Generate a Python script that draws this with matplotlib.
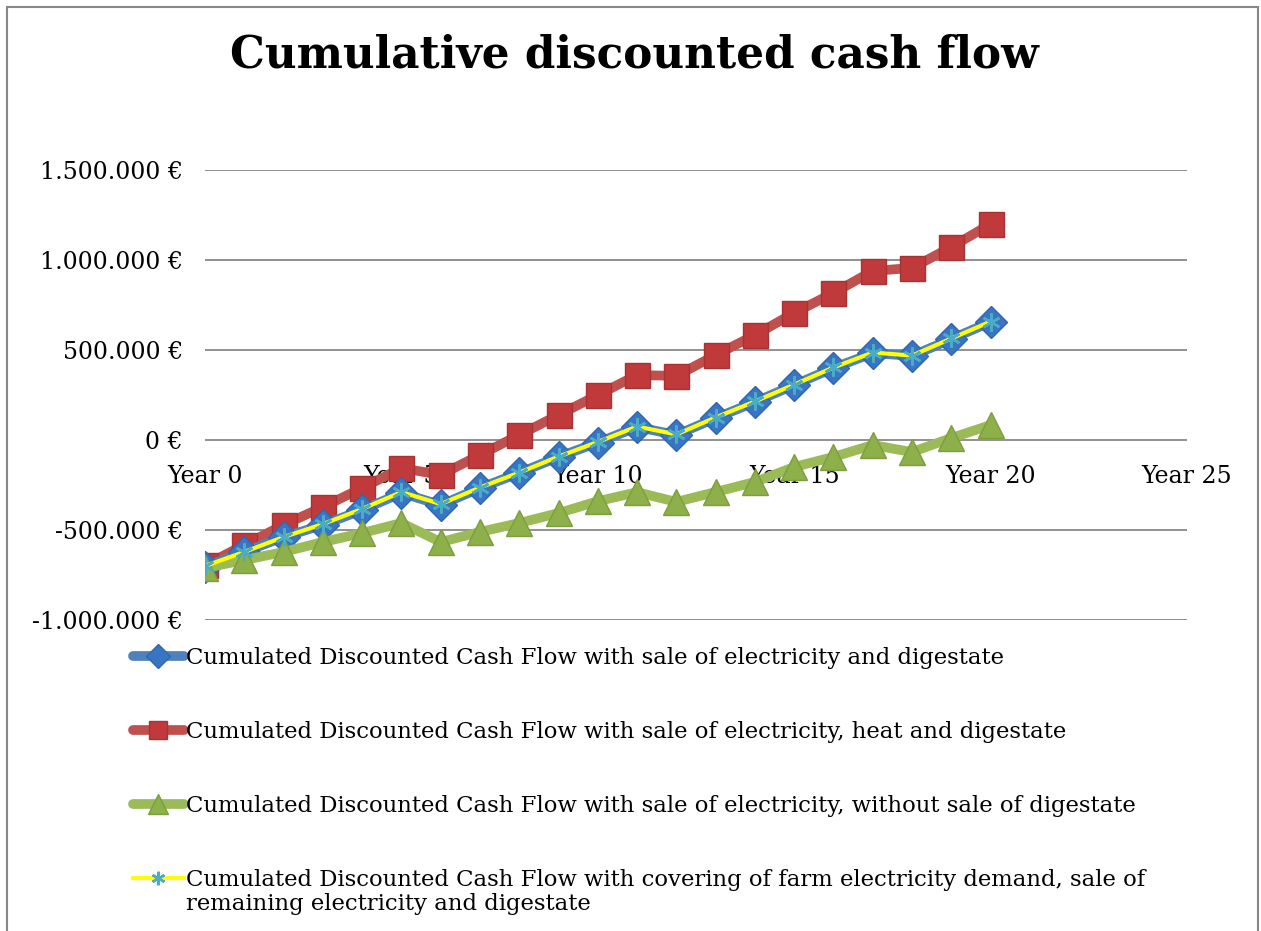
import numpy as np
import matplotlib.pyplot as plt
from matplotlib.patches import Rectangle

plt.rcParams['font.family'] = ['DejaVu Serif']

years = list(range(21))
xtick_pos = [0, 5, 10, 15, 20, 25]
xtick_labels = ['Year 0', 'Year 5', 'Year 10', 'Year 15', 'Year 20', 'Year 25']

# cumulated discounted cash flow, EUR
cf_elec_dig = [-705000, -622000, -539000, -472000, -389000, -294000, -361000, -267000, -183000, -94000,
               -14000, 72000, 28000, 122000, 211000, 306000, 400000, 483000, 467000, 561000, 656000]
cf_elec_heat_dig = [-695000, -583000, -472000, -372000, -267000, -156000, -194000, -83000, 28000, 139000,
                    250000, 361000, 356000, 472000, 583000, 706000, 817000, 939000, 956000, 1072000, 1200000]
cf_elec_nodig = [-711000, -667000, -622000, -567000, -517000, -461000, -567000, -511000, -461000, -406000,
                 -340000, -290000, -344000, -289000, -233000, -150000, -94000, -28000, -67000, 11000, 83000]
cf_farm_demand = [-700000, -622000, -539000, -467000, -383000, -289000, -356000, -264000, -181000, -92000,
                  -11000, 75000, 31000, 125000, 214000, 308000, 403000, 486000, 469000, 564000, 658000]

labels = [
    'Cumulated Discounted Cash Flow with sale of electricity and digestate',
    'Cumulated Discounted Cash Flow with sale of electricity, heat and digestate',
    'Cumulated Discounted Cash Flow with sale of electricity, without sale of digestate',
    'Cumulated Discounted Cash Flow with covering of farm electricity demand, sale of',
]
label_cont = 'remaining electricity and digestate'

fig = plt.figure(figsize=(12.61, 9.31), dpi=100)
ax = fig.add_axes([205/1261, 1-620/931, (1187-205)/1261, 450/931])

ax.plot(years, cf_elec_dig, '-', color='#4F81BD', lw=7, marker='D', ms=16,
        mfc='#3A75C4', mec='#2F66AE', mew=1, label=labels[0], zorder=3, solid_capstyle='round')
ax.plot(years, cf_elec_heat_dig, '-', color='#C0504D', lw=7, marker='s', ms=18,
        mfc='#C0393B', mec='#A83232', mew=1, label=labels[1], zorder=2, solid_capstyle='round')
ax.plot(years, cf_elec_nodig, '-', color='#9BBB59', lw=7, marker='^', ms=19,
        mfc='#8DB04A', mec='#7C9E3C', mew=1, label=labels[2], zorder=4, solid_capstyle='round')
ax.plot(years, cf_farm_demand, '-', color='#FFFF00', lw=3, marker=(6, 2, 0), ms=13,
        mec='#4BACC6', mew=1.8, label=labels[3], zorder=5)

ax.set_xlim(0, 25)
ax.set_ylim(-1000000, 1500000)
ax.set_yticks(np.arange(-1000000, 1500001, 500000))
ax.yaxis.set_major_formatter(plt.FuncFormatter(lambda v, p: f"{v:,.0f} €".replace(',', '.')))
ax.set_xticks(xtick_pos)
ax.set_xticklabels(xtick_labels)
ax.spines['bottom'].set_position(('data', 0))
for s in ax.spines.values():
    s.set_visible(False)
ax.grid(axis='y', color='#888888', lw=1.3)
ax.set_axisbelow(True)
ax.tick_params(axis='y', length=0, pad=16, labelsize=17)
ax.tick_params(axis='x', length=0, pad=18, labelsize=17)

fig.text(634/1261, 1-55/931, 'Cumulative discounted cash flow', ha='center', va='center',
         fontsize=31.5, fontweight='bold')

leg = fig.legend(loc='upper left', bbox_to_anchor=(122/1261, 1-636/931), frameon=False,
                 fontsize=16.4, handlelength=2.2, handletextpad=0.1, labelspacing=2.27,
                 borderpad=0, markerscale=0.75)
fig.text(186/1261, 1-904/931, label_cont, ha='left', va='center', fontsize=16.4)

fig.patches.append(Rectangle((7/1261, -0.01), (1258-7)/1261, 1-7/931+0.01, transform=fig.transFigure,
                             fill=False, ec='#888888', lw=1.5))

plt.savefig('out.png', dpi=100)
